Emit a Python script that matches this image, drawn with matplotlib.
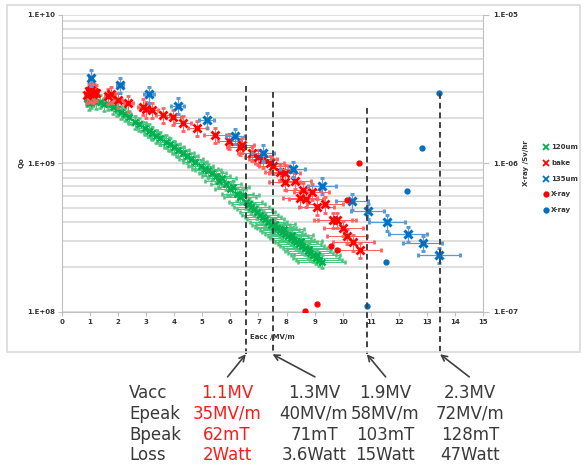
import matplotlib
matplotlib.use('Agg')
import matplotlib.pyplot as plt
from matplotlib.lines import Line2D
from matplotlib.patches import Rectangle
from matplotlib.ticker import LogLocator, NullFormatter

# ---- data ----
# 120um : Eacc [MV/m], Qo
g_eacc = [0.90, 0.95, 1.00, 1.05, 1.10, 1.20, 1.35, 1.50, 1.65, 1.80, 1.95, 2.10,
          2.25, 2.40, 2.60, 2.75, 2.95, 3.10, 3.20, 3.35, 3.50, 3.70, 3.85, 4.00,
          4.15, 4.30, 4.45, 4.60, 4.75, 4.95, 5.10, 5.20, 5.35, 5.50, 5.60, 5.70,
          5.85, 6.00, 6.10, 6.25, 6.35, 6.45, 6.55, 6.65, 6.75, 6.85, 6.95, 7.05,
          7.15, 7.25, 7.35, 7.45, 7.55, 7.60, 7.65, 7.75, 7.85, 7.90, 7.95, 8.05,
          8.15, 8.20, 8.25, 8.35, 8.45, 8.50, 8.55, 8.65, 8.75, 8.80, 8.85, 8.95,
          9.05, 9.10, 9.15, 9.25]
g_qo = [2.70e9, 2.55e9, 2.75e9, 2.60e9, 2.68e9, 2.58e9, 2.60e9, 2.50e9, 2.52e9, 2.40e9, 2.31e9, 2.22e9,
        2.15e9, 2.05e9, 1.90e9, 1.83e9, 1.72e9, 1.66e9, 1.60e9, 1.52e9, 1.47e9, 1.40e9, 1.35e9, 1.28e9,
        1.23e9, 1.17e9, 1.12e9, 1.07e9, 1.02e9, 9.6e8, 9.2e8, 9.0e8, 8.6e8, 8.2e8, 7.6e8, 7.9e8,
        7.3e8, 6.7e8, 6.9e8, 6.2e8, 5.95e8, 6.1e8, 5.5e8, 5.3e8, 5.1e8, 4.9e8, 4.7e8, 4.5e8,
        4.35e8, 4.2e8, 4.0e8, 3.85e8, 3.75e8, 3.9e8, 3.65e8, 3.55e8, 3.45e8, 3.6e8, 3.35e8, 3.22e8,
        3.12e8, 3.3e8, 3.05e8, 2.95e8, 2.85e8, 3.0e8, 2.76e8, 2.68e8, 2.58e8, 2.65e8, 2.48e8, 2.40e8,
        2.32e8, 2.40e8, 2.25e8, 2.18e8]

# bake
r_eacc = [0.90, 0.95, 1.00, 1.05, 1.10, 1.15, 1.20, 1.65, 1.75, 2.01, 2.36, 2.90,
          3.00, 3.20, 3.61, 3.97, 4.30, 4.82, 5.45, 5.96, 6.34, 6.40, 6.76, 7.00,
          7.17, 7.40, 7.53, 7.77, 7.94, 7.94, 8.30, 8.48, 8.60, 8.69, 8.89, 9.07,
          9.37, 9.67, 9.79, 10.02, 10.14, 10.38, 10.62]
r_qo = [2.88e9, 3.05e9, 2.95e9, 3.10e9, 2.90e9, 3.03e9, 2.98e9, 2.83e9, 2.90e9, 2.66e9, 2.53e9, 2.40e9,
        2.30e9, 2.28e9, 2.11e9, 2.04e9, 1.86e9, 1.72e9, 1.55e9, 1.41e9, 1.29e9, 1.33e9, 1.17e9, 1.10e9,
        1.06e9, 1.00e9, 9.6e8, 8.8e8, 8.64e8, 7.52e8, 7.64e8, 5.81e8, 6.61e8, 5.73e8, 6.44e8, 5.10e8,
        5.29e8, 4.16e8, 4.16e8, 3.66e8, 3.24e8, 2.94e8, 2.61e8]

# 135um
b_eacc = [1.02, 2.07, 3.10, 4.12, 5.15, 6.17, 7.17, 8.22, 9.27, 10.32, 10.89, 11.57, 12.33, 12.85, 13.44]
b_qo = [3.76e9, 3.36e9, 2.91e9, 2.44e9, 1.95e9, 1.52e9, 1.18e9, 9.15e8, 7.06e8, 5.55e8, 4.77e8,
        4.01e8, 3.34e8, 2.90e8, 2.42e8]

# X-ray [Sv/hr]
xr_red_eacc = [8.66, 9.07, 9.57, 9.81, 10.14, 10.59]
xr_red = [1.02e-7, 1.13e-7, 2.79e-7, 2.61e-7, 5.66e-7, 1.01e-6]
xr_blue_eacc = [10.88, 11.53, 12.30, 12.84, 13.44]
xr_blue = [1.10e-7, 2.18e-7, 6.53e-7, 1.27e-6, 2.98e-6]

# relative error bars
g_xerr_frac, g_yerr_frac = 0.09, 0.10
r_xerr_frac, r_yerr_frac = 0.07, 0.12
b_xerr_frac, b_yerr_frac = 0.055, 0.12

# marked operating points
mark_eacc = [6.55, 7.50, 10.86, 13.47]
mark_top = [0.76, 0.739, 0.686, 0.737]
arrow_tail_x = [5.90, 9.01, 11.53, 14.51]

row_labels = ['Vacc', 'Epeak', 'Bpeak', 'Loss']
col_vals = [['1.1MV', '35MV/m', '62mT', '2Watt'],
            ['1.3MV', '40MV/m', '71mT', '3.6Watt'],
            ['1.9MV', '58MV/m', '103mT', '15Watt'],
            ['2.3MV', '72MV/m', '128mT', '47Watt']]
col_colors = ['#ff1a1a', '#3a3a3a', '#3a3a3a', '#3a3a3a']

GREEN, RED, BLUE = '#00b050', '#ff0000', '#0070c0'
W, H = 583, 467

fig = plt.figure(figsize=(W / 100, H / 100), dpi=100)
fig.add_artist(Rectangle((7 / W, 1 - 352 / H), 573 / W, 347 / H, transform=fig.transFigure,
                         fill=False, edgecolor='#d9d9d9', lw=1.2))

ax = fig.add_axes([62 / W, 1 - 312 / H, 421 / W, 297.5 / H])
ax.set_yscale('log')
ax.set_xlim(0, 15)
ax.set_ylim(1e8, 1e10)
ax.set_xticks(range(16))
ax.set_yticks([1e8, 1e9, 1e10])
ax.set_yticklabels(['1.E+08', '1.E+09', '1.E+10'])
ax.yaxis.set_minor_locator(LogLocator(subs=range(2, 10)))
ax.yaxis.set_minor_formatter(NullFormatter())
ax.yaxis.grid(True, which='both', color='#d9d9d9', lw=1.2)
ax.set_axisbelow(True)
ax.tick_params(which='minor', length=0)
ax.tick_params(which='major', length=3, color='#bfbfbf', labelsize=5, pad=2)
for lab in ax.get_xticklabels() + ax.get_yticklabels():
    lab.set_fontweight('bold')
    lab.set_color('#333333')
for s in ['top', 'right']:
    ax.spines[s].set_visible(False)
for s in ['left', 'bottom']:
    ax.spines[s].set_color('#bfbfbf')

ax.errorbar(g_eacc, g_qo, xerr=[v * g_xerr_frac for v in g_eacc], yerr=[v * g_yerr_frac for v in g_qo],
            fmt='x', color=GREEN, ms=5, mew=1.8, ecolor='#4cc47f', elinewidth=0.7, capsize=1.5, zorder=3)
ax.errorbar(r_eacc, r_qo, xerr=[v * r_xerr_frac for v in r_eacc], yerr=[v * r_yerr_frac for v in r_qo],
            fmt='x', color=RED, ms=5.5, mew=2.0, ecolor='#ff6060', elinewidth=0.7, capsize=1.5, zorder=4)
ax.errorbar(b_eacc, b_qo, xerr=[v * b_xerr_frac for v in b_eacc], yerr=[v * b_yerr_frac for v in b_qo],
            fmt='x', color=BLUE, ms=6, mew=2.2, ecolor='#5b9bd5', elinewidth=0.9, capsize=1.5, zorder=5)

ax2 = ax.twinx()
ax2.set_yscale('log')
ax2.set_ylim(1e-7, 1e-5)
ax2.set_yticks([1e-7, 1e-6, 1e-5])
ax2.set_yticklabels(['1.E-07', '1.E-06', '1.E-05'])
ax2.yaxis.set_minor_formatter(NullFormatter())
ax2.tick_params(which='minor', length=0)
ax2.tick_params(which='major', length=4, color='#bfbfbf', labelsize=5, pad=3)
for lab in ax2.get_yticklabels():
    lab.set_fontweight('bold')
    lab.set_color('#333333')
for s in ['top', 'left', 'bottom']:
    ax2.spines[s].set_visible(False)
ax2.spines['right'].set_color('#bfbfbf')
ax2.plot(xr_red_eacc, xr_red, 'o', color=RED, ms=3.5, zorder=6)
ax2.plot(xr_blue_eacc, xr_blue, 'o', color=BLUE, ms=3.5, zorder=6)

# dashed markers and arrows
trans = ax2.get_xaxis_transform()
for xm, top, xt in zip(mark_eacc, mark_top, arrow_tail_x):
    ax2.plot([xm, xm], [top, -0.14], transform=trans, clip_on=False, color='#404040',
             ls=(0, (3, 2)), lw=1.4, zorder=7)
    ax2.annotate('', xy=(xm, -0.142), xycoords=trans, xytext=(xt, -0.218), textcoords=trans,
                 annotation_clip=False,
                 arrowprops=dict(arrowstyle='->', color='#404040', lw=1.2, shrinkA=0, shrinkB=0))

# axis titles
fig.text(22 / W, 1 - 163 / H, 'Qo', rotation=90, ha='center', va='center', fontsize=5,
         fontweight='bold', color='#333333')
fig.text(526 / W, 1 - 163 / H, 'X-ray /Sv/hr', rotation=90, ha='center', va='center', fontsize=5,
         fontweight='bold', color='#333333')
fig.text(272 / W, 1 - 337 / H, 'Eacc /MV/m', ha='center', va='center', fontsize=5,
         fontweight='bold', color='#333333')

# legend
leg = [('x', GREEN, '120um'), ('x', RED, 'bake'), ('x', BLUE, '135um'), ('o', RED, 'X-ray'), ('o', BLUE, 'X-ray')]
leg_y = [146.7, 163.3, 179, 194, 210]
for (mk, c, lab), y in zip(leg, leg_y):
    fig.add_artist(Line2D([546 / W], [1 - y / H], transform=fig.transFigure, marker=mk, color=c,
                          ms=3.8 if mk == 'x' else 3.2, mew=1.3, ls='none'))
    fig.text(551 / W, 1 - y / H, lab, ha='left', va='center', fontsize=5, fontweight='bold', color='#333333')

# table under the chart
row_y = [392.7, 414, 435, 455]
col_x = [227, 314, 385, 470]
for lab, y in zip(row_labels, row_y):
    fig.text(129 / W, 1 - y / H, lab, ha='left', va='center', fontsize=12, color='#3a3a3a')
for vals, c, x in zip(col_vals, col_colors, col_x):
    for v, y in zip(vals, row_y):
        fig.text(x / W, 1 - y / H, v, ha='center', va='center', fontsize=12, color=c)

fig.savefig('out.png', dpi=100)
